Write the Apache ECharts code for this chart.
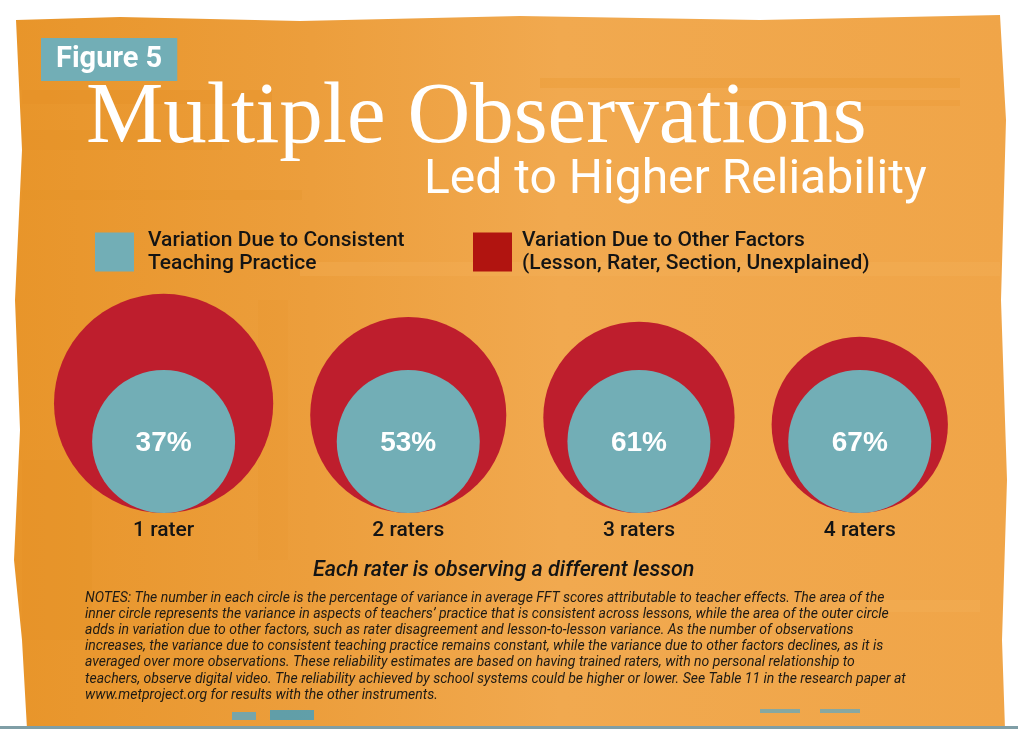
<!DOCTYPE html>
<html>
<head>
<meta charset="utf-8">
<script src="https://cdn.jsdelivr.net/npm/echarts@6/dist/echarts.min.js"></script>
<style>
  html, body { margin: 0; padding: 0; background: #fff; }
  #main { width: 1018px; height: 729px; }
</style>
</head>
<body>
<div id="main"></div>
<script>
// data
var raters = ["1 rater", "2 raters", "3 raters", "4 raters"];
var consistentShare = [37, 53, 61, 67]; // % of variance due to consistent teaching practice
var totalVariance = [2.35, 1.88, 1.79, 1.52]; // outer circle area, relative to inner circle area

var notesLines = [
  "NOTES: The number in each circle is the percentage of variance in average FFT scores attributable to teacher effects. The area of the",
  "inner circle represents the variance in aspects of teachers\u2019 practice that is consistent across lessons, while the area of the outer circle",
  "adds in variation due to other factors, such as rater disagreement and lesson-to-lesson variance. As the number of observations",
  "increases, the variance due to consistent teaching practice remains constant, while the variance due to other factors declines, as it is",
  "averaged over more observations. These reliability estimates are based on having trained raters, with no personal relationship to",
  "teachers, observe digital video. The reliability achieved by school systems could be higher or lower. See Table 11 in the research paper at",
  "www.metproject.org for results with the other instruments."
];

var chart = echarts.init(document.getElementById("main"));

// inner circle keeps the same size, outer area scales with total variance
var innerSize = 143;
var gap = 37;
var firstLeft = 54;
var outerSize = totalVariance.map(function (v) { return innerSize * Math.sqrt(v); });
var centers = [];
var edge = firstLeft;
outerSize.forEach(function (d) {
  centers.push(edge + d / 2);
  edge += d + gap;
});

var SANS = "Roboto, 'DejaVu Sans', sans-serif";

// background brush streaks
function streak(x, y, w, h, color, op) {
  return { type: "rect", z: -9, silent: true, shape: { x: x, y: y, width: w, height: h }, style: { fill: color, opacity: op } };
}

var option = {
  backgroundColor: "#ffffff",
  animation: false,
  graphic: [
    {
      type: "polygon",
      z: -10,
      silent: true,
      shape: {
        points: [[16, 20], [120, 17], [300, 21], [520, 16], [760, 20], [1000, 15], [1006, 120], [1001, 300],
                 [1007, 480], [1002, 640], [1005, 729], [27, 729], [22, 640], [14, 560], [20, 430], [15, 300], [22, 150]]
      },
      style: {
        fill: new echarts.graphic.LinearGradient(0, 0, 1, 0, [
          { offset: 0, color: "#e8952a" },
          { offset: 0.3, color: "#ec9e3c" },
          { offset: 0.55, color: "#f1a94f" },
          { offset: 1, color: "#f0a548" }
        ])
      }
    },
    streak(22, 90, 250, 14, "#e38f25", 0.3),
    streak(22, 130, 200, 20, "#e38f25", 0.25),
    streak(22, 190, 280, 10, "#e38f25", 0.2),
    streak(540, 78, 420, 10, "#e8952c", 0.3),
    streak(600, 100, 360, 6, "#e8952c", 0.25),
    streak(300, 262, 700, 14, "#f4b25e", 0.3),
    streak(22, 460, 70, 180, "#e58f22", 0.25),
    streak(258, 300, 30, 260, "#e8952a", 0.18),
    streak(620, 600, 360, 12, "#f4b25e", 0.3),
    streak(400, 640, 300, 10, "#f4b25e", 0.25),
    streak(232, 712, 24, 8, "#5aa8c6", 0.8),
    streak(270, 710, 44, 10, "#3f9fc4", 0.8),
    streak(760, 709, 40, 4, "#5aa8c6", 0.7),
    streak(820, 709, 40, 4, "#5aa8c6", 0.7),
    streak(0, 726, 1018, 3, "#7f9ea6", 1)
  ],
  title: [
    {
      text: "Figure 5",
      left: 41,
      top: 38,
      backgroundColor: "#72aeb6",
      padding: [7, 15, 7, 15],
      textStyle: { color: "#ffffff", fontSize: 29, fontWeight: "bold", fontFamily: SANS }
    },
    {
      text: "Multiple Observations",
      left: 81,
      top: 71,
      textStyle: { color: "#ffffff", fontSize: 87, fontWeight: "normal", fontFamily: "'Liberation Serif', 'DejaVu Serif', serif" }
    },
    {
      text: "Led to Higher Reliability",
      left: 419,
      top: 152,
      textStyle: { color: "#ffffff", fontSize: 48, fontWeight: "normal", fontFamily: SANS }
    },
    {
      text: "Each rater is observing a different lesson",
      left: 308,
      top: 555,
      textStyle: { color: "#141414", fontSize: 21.5, fontStyle: "italic", fontWeight: 500, fontFamily: SANS }
    },
    {
      text: notesLines.join("\n"),
      left: 80,
      top: 585,
      textStyle: { color: "#1e1a14", fontSize: 14, lineHeight: 16.2, fontStyle: "italic", fontWeight: "normal", fontFamily: SANS }
    }
  ],
  legend: [
    {
      left: 95,
      top: 229,
      padding: 0,
      selectedMode: false,
      icon: "rect",
      itemWidth: 39,
      itemHeight: 39,
      data: ["Consistent"],
      formatter: function () { return "Variation Due to Consistent\nTeaching Practice"; },
      textStyle: { color: "#141414", fontSize: 21, lineHeight: 23, fontWeight: 500, fontFamily: SANS, padding: [0, 0, 0, 9] }
    },
    {
      left: 473,
      top: 229,
      padding: 0,
      selectedMode: false,
      icon: "rect",
      itemWidth: 39,
      itemHeight: 39,
      data: [{ name: "Other", itemStyle: { color: "#b11410" } }],
      formatter: function () { return "Variation Due to Other Factors\n(Lesson, Rater, Section, Unexplained)"; },
      textStyle: { color: "#141414", fontSize: 21, lineHeight: 23, fontWeight: 500, fontFamily: SANS, padding: [0, 0, 0, 5] }
    }
  ],
  grid: { left: 0, right: 0, top: 280, bottom: 216 },
  xAxis: { type: "value", min: 0, max: 1018, show: false },
  yAxis: { type: "value", min: 0, max: 1, show: false },
  series: [
    {
      name: "Other",
      type: "scatter",
      z: 2,
      data: centers.map(function (x) { return [x, 0]; }),
      symbol: "circle",
      symbolSize: function (val, params) { return outerSize[params.dataIndex]; },
      symbolOffset: [0, "-50%"],
      itemStyle: { color: "#be1e2d", opacity: 1 },
      label: {
        show: true,
        position: "bottom",
        distance: 7,
        formatter: function (p) { return raters[p.dataIndex]; },
        color: "#141414",
        fontSize: 21,
        fontWeight: 500,
        fontFamily: SANS
      },
      emphasis: { disabled: true }
    },
    {
      name: "Consistent",
      type: "scatter",
      z: 3,
      data: centers.map(function (x) { return [x, 0]; }),
      symbol: "circle",
      symbolSize: innerSize,
      symbolOffset: [0, "-50%"],
      itemStyle: { color: "#72aeb6", opacity: 1 },
      label: {
        show: true,
        position: "inside",
        offset: [0, 2],
        formatter: function (p) { return consistentShare[p.dataIndex] + "%"; },
        color: "#ffffff",
        fontSize: 28,
        fontWeight: "bold",
        fontFamily: "'Liberation Sans', Arial, sans-serif"
      },
      emphasis: { disabled: true }
    }
  ]
};

chart.setOption(option);
</script>
</body>
</html>
